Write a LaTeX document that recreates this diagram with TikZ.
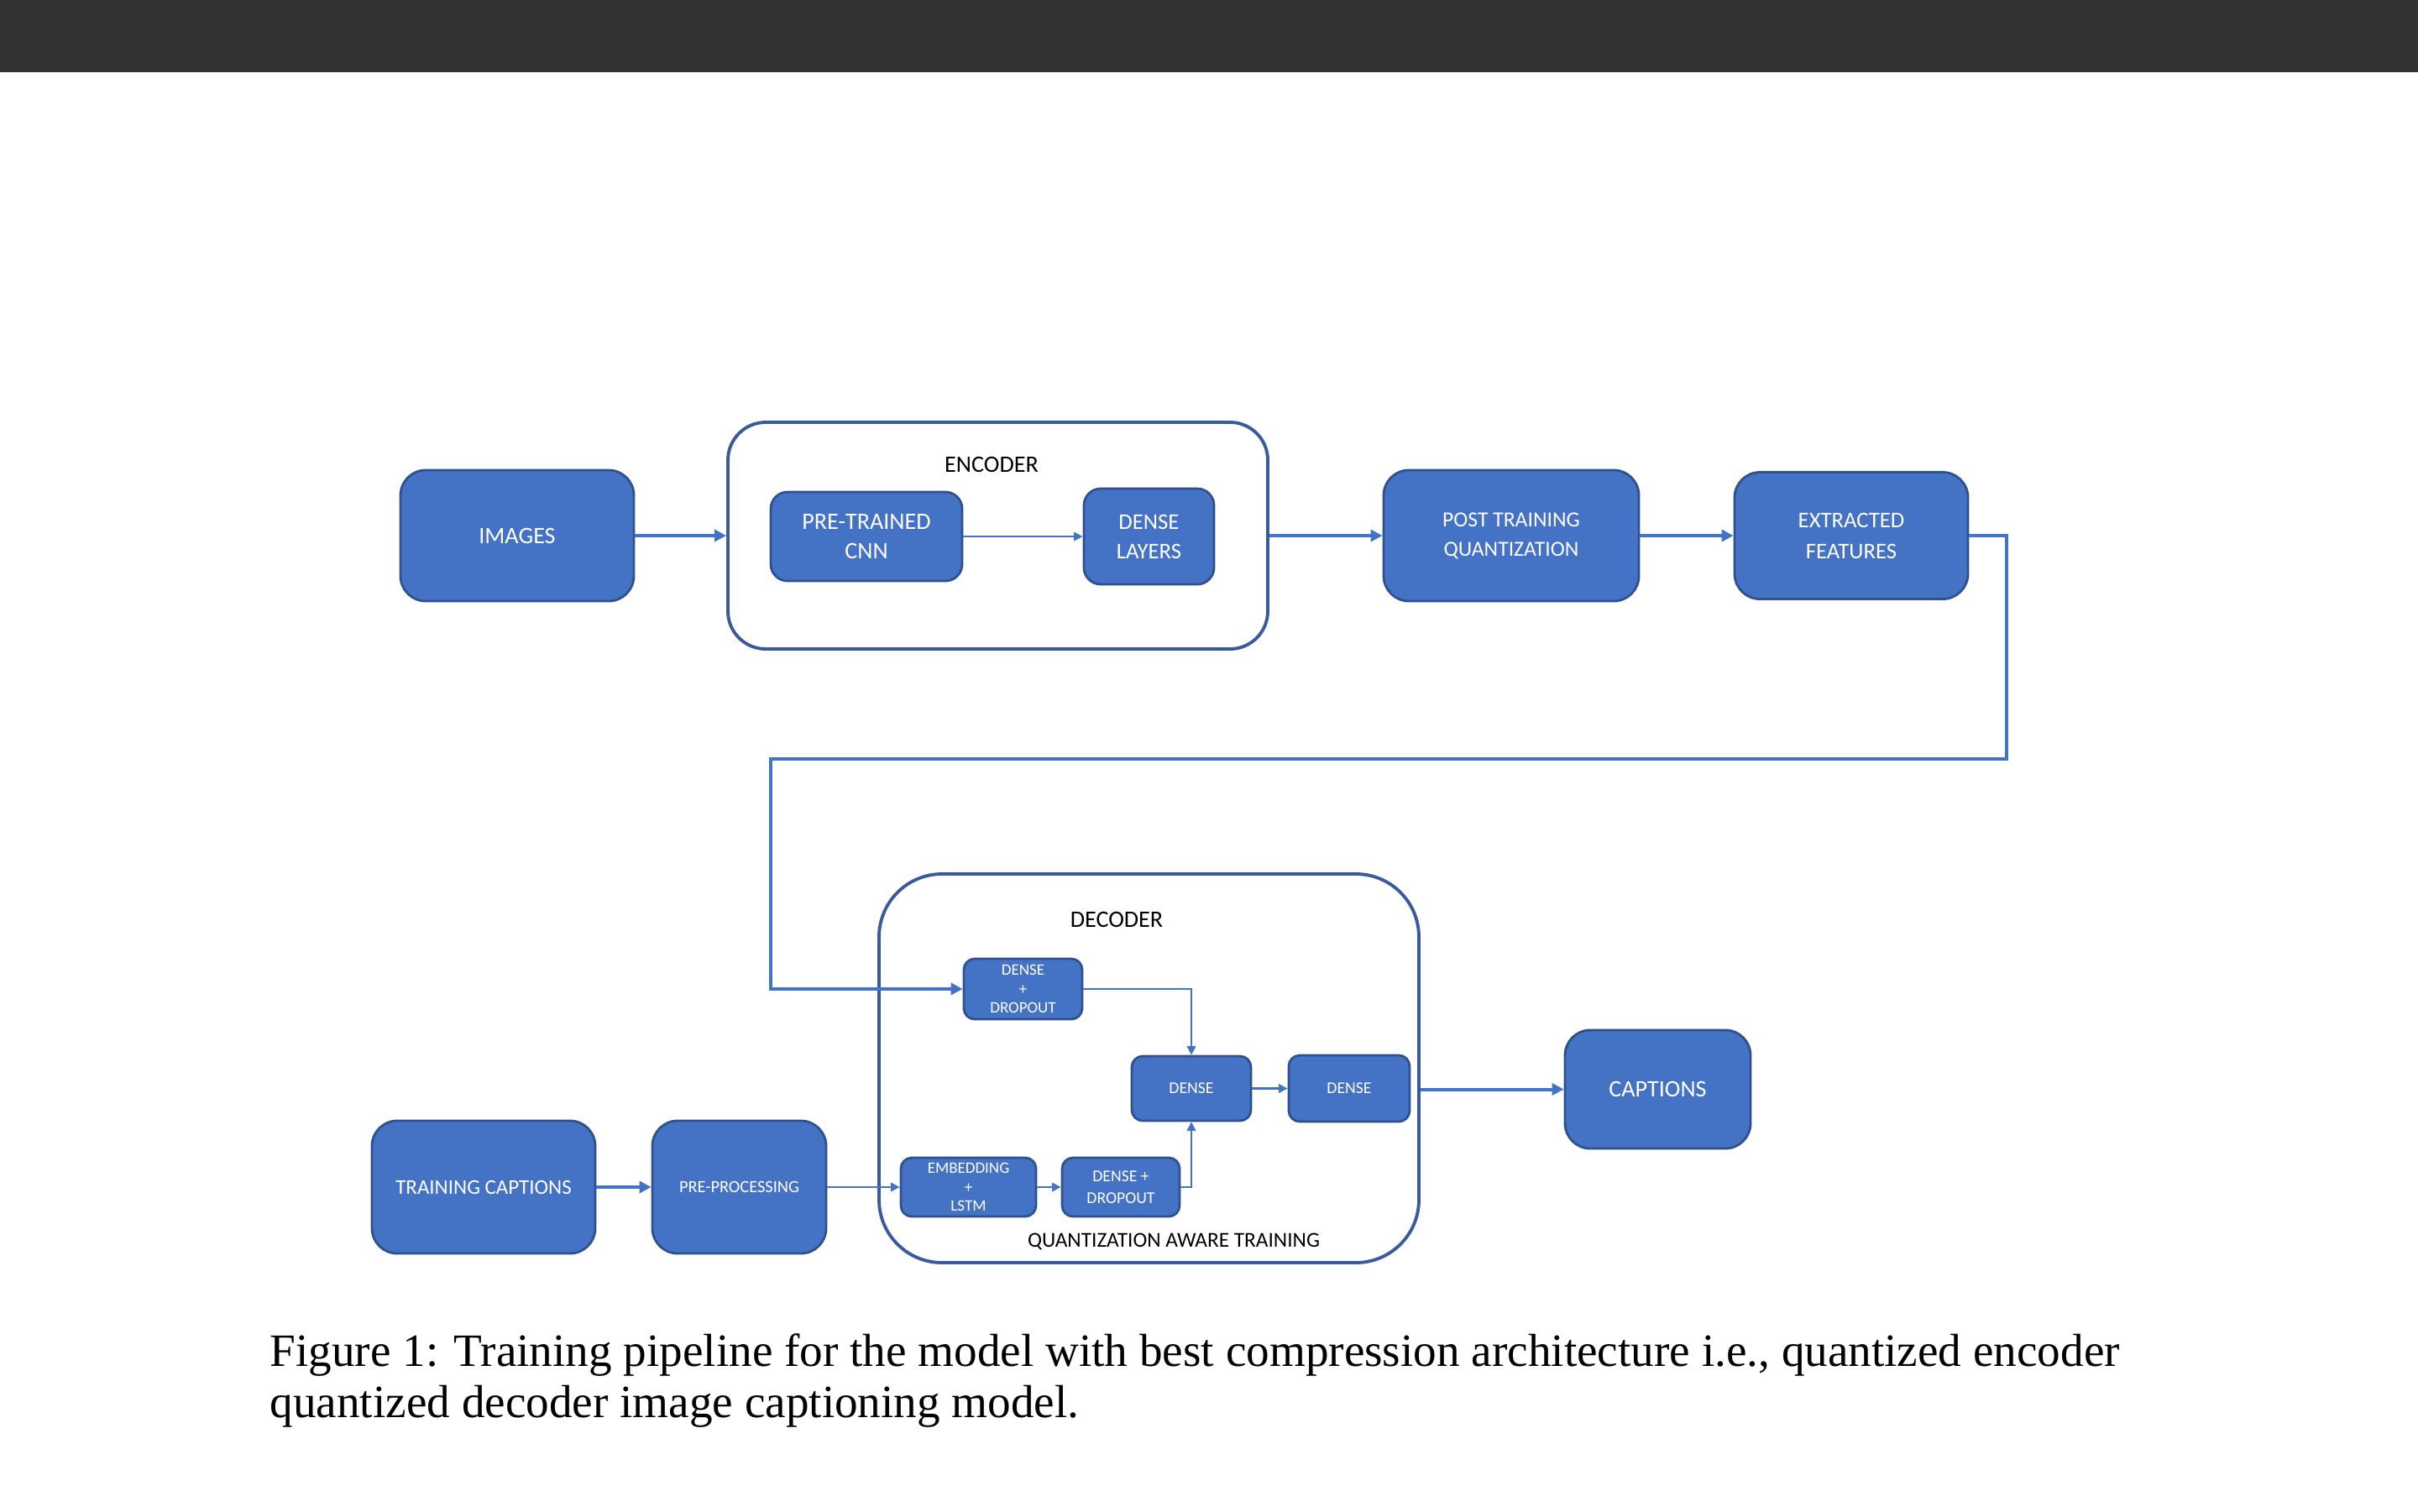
\documentclass[tikz,border=0pt]{standalone}
\usepackage{fontspec}
\setmainfont{Liberation Serif}
\newfontfamily\boxfont{Carlito}
\usetikzlibrary{arrows.meta, positioning}
\definecolor{boxblue}{HTML}{4472C4}
\definecolor{boxedge}{HTML}{2F528F}
\definecolor{groupedge}{HTML}{3A5A9E}
\definecolor{topbar}{HTML}{333333}
\tikzset{node distance = 2cm, on grid,
	 block/.style = {draw = boxedge, fill = boxblue, line width = 0.8pt,
			 rounded corners = 3mm, text = white, align = center,
			 inner sep = 0pt,
			 font = \boxfont\fontsize{8}{10}\selectfont},
	 small block/.style = {block, rounded corners = 1.3mm,
			 font = \boxfont\fontsize{5.6}{6.6}\selectfont},
	 group/.style = {draw = groupedge, line width = 1.1pt, inner sep = 0pt},
	 group label/.style = {font = \boxfont\fontsize{8}{10}\selectfont},
	 flow/.style = {draw = boxblue, line width = 1.15pt,
			-{Triangle[length = 4pt, width = 4pt]}},
	 link/.style = {draw = boxblue, line width = 0.6pt,
			-{Triangle[length = 3pt, width = 3pt]}}}

\begin{document}
\begin{tikzpicture}
      \useasboundingbox (0,0) rectangle (28.8,-18);
      \fill[topbar] (0,0) rectangle (28.8,-0.86);
      % encoder row
      \node [block, minimum width = 2.78cm, minimum height = 1.56cm]
	    (images) at (6.16,-6.38) {IMAGES};
      \node [group, rounded corners = 4.5mm, minimum width = 6.43cm,
	     minimum height = 2.70cm] (encoder) [right = 5.725cm of images] {};
      \node [group label] (enclabel) at (11.81,-5.53) {ENCODER};
      \node [block, rounded corners = 2mm, minimum width = 2.28cm,
	     minimum height = 1.06cm] (cnn) at (10.32,-6.39) {PRE-TRAINED\\CNN};
      \node [block, rounded corners = 2mm, minimum width = 1.55cm,
	     minimum height = 1.14cm, font = \boxfont\fontsize{7.6}{10}\selectfont]
	    (denselayers) [right = 3.365cm of cnn] {DENSE\\LAYERS};
      \node [block, minimum width = 3.04cm, minimum height = 1.56cm,
	     font = \boxfont\fontsize{7.3}{10}\selectfont]
	    (ptq) [right = 6.115cm of encoder] {POST TRAINING\\QUANTIZATION};
      \node [block, minimum width = 2.78cm, minimum height = 1.51cm,
	     font = \boxfont\fontsize{7.6}{10.5}\selectfont]
	    (features) [right = 4.05cm of ptq] {EXTRACTED\\FEATURES};
      % decoder row
      \node [group, rounded corners = 7.5mm, minimum width = 6.43cm,
	     minimum height = 4.63cm] (decoder) at (13.685,-12.725) {};
      \node [group label] (declabel) at (13.30,-10.95) {DECODER};
      \node [group label, font = \boxfont\fontsize{7.2}{9}\selectfont]
	    (qatlabel) at (13.98,-14.79) {QUANTIZATION AWARE TRAINING};
      \node [small block, minimum width = 1.41cm, minimum height = 0.72cm,
	     font = \boxfont\fontsize{5.4}{6.5}\selectfont]
	    (dropa) at (12.185,-11.78) {DENSE\\+\\DROPOUT};
      \node [small block, minimum width = 1.42cm, minimum height = 0.77cm]
	    (densea) at (14.19,-12.965) {DENSE};
      \node [small block, minimum width = 1.44cm, minimum height = 0.79cm]
	    (denseb) [right = 1.88cm of densea] {DENSE};
      \node [small block, minimum width = 1.61cm, minimum height = 0.70cm,
	     font = \boxfont\fontsize{5.4}{6.5}\selectfont]
	    (embed) at (11.535,-14.14) {EMBEDDING\\+\\LSTM};
      \node [small block, minimum width = 1.40cm, minimum height = 0.70cm,
	     font = \boxfont\fontsize{5.6}{7.3}\selectfont]
	    (dropb) [right = 1.815cm of embed] {DENSE +\\DROPOUT};
      \node [block, minimum width = 2.21cm, minimum height = 1.41cm]
	    (captions) at (19.745,-12.975) {CAPTIONS};
      \node [block, minimum width = 2.66cm, minimum height = 1.58cm,
	     font = \boxfont\fontsize{7.1}{9}\selectfont]
	    (training) at (5.76,-14.14) {TRAINING CAPTIONS};
      \node [block, minimum width = 2.07cm, minimum height = 1.58cm,
	     font = \boxfont\fontsize{5.8}{8}\selectfont]
	    (preproc) [right = 3.045cm of training] {PRE-PROCESSING};
      % caption
      \node [anchor = north west, align = left, inner sep = 0pt,
	     font = \fontsize{15.7}{17.2}\selectfont] (caption) at (3.21,-15.88)
	    {Figure 1: Training pipeline for the model with best compression architecture i.e., quantized encoder\\
	     quantized decoder image captioning model.};
      % connectors
      \coordinate (turnright) at (23.90,-9.04);
      \coordinate (turnleft) at (9.18,-9.04);
      \path[flow] (images) -- (encoder);
      \path[link] (cnn) -- (denselayers);
      \path[flow] (encoder) -- (ptq);
      \path[flow] (ptq) -- (features);
      \path[flow] (features.east) -| (turnright) -- (turnleft) |- (dropa.west);
      \path[link] (dropa.east) -| (densea.north);
      \path[link] (densea) -- (denseb);
      \path[flow] (decoder.east |- captions.west) -- (captions.west);
      \path[flow] (training) -- (preproc);
      \path[link] (preproc) -- (embed);
      \path[link] (embed) -- (dropb);
      \path[link] (dropb.east) -| (densea.south);
    \end{tikzpicture}
\end{document}
